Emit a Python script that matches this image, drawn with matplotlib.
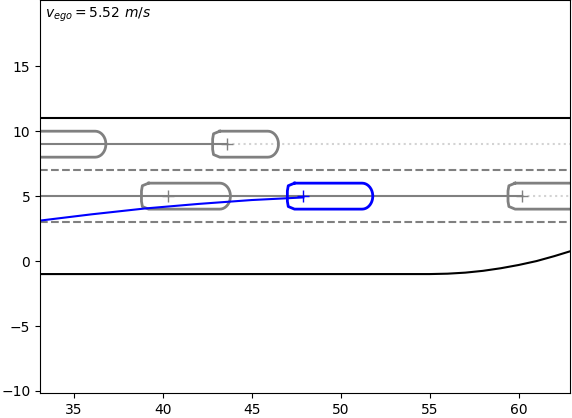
import numpy as np
import matplotlib
matplotlib.use("Agg")
import matplotlib.pyplot as plt

# vehicles: (cross x, box left, box right, lane y)
car_cross = [36.0, 43.6, 40.3, 60.2]
car_left = [31.0, 42.8, 38.8, 59.4]
car_right = [36.8, 46.5, 43.8, 65.0]
car_y = [9.0, 9.0, 5.0, 5.0]
ego_cross, ego_left, ego_right, ego_y = 47.9, 47.0, 51.8, 5.0
blue_x = [33.0, 36.0, 39.0, 42.0, 45.0, 47.9]
blue_y = [3.1, 3.6, 4.05, 4.4, 4.7, 4.9]
edge_x = [33.0, 55.0, 56.0, 57.0, 58.0, 59.0, 60.0, 61.0, 62.0, 63.0]
edge_y = [-1.0, -1.0, -0.97, -0.89, -0.75, -0.55, -0.3, 0.0, 0.38, 0.8]

fig = plt.figure(figsize=(5.72, 4.18), dpi=100)
ax = fig.add_axes([0.07, 0.06, 0.927, 0.94])

def box(x0, x1, yc, col, h=1.0):
    t = np.linspace(-np.pi/2, np.pi/2, 20)
    r = 0.6
    xs = [x0 + 0.4, x0 + 0.05, x0, x0, x0 + 0.05, x0 + 0.4] + list(x1 - r + r*np.cos(t)) + [x0 + 0.4]
    ys = [yc + h, yc + 0.8*h, yc + 0.4*h, yc - 0.4*h, yc - 0.8*h, yc - h] + list(yc + h*np.sin(t)) + [yc + h]
    ax.plot(xs, ys, color=col, lw=2)

ax.axhline(11, color='black', lw=1.5)
ax.plot(edge_x, edge_y, color='black', lw=1.5)
for yy in (7, 3):
    ax.axhline(yy, color='gray', ls='--', lw=1.5)

ax.plot([33, car_cross[1]], [9, 9], color='gray', lw=1.5)
ax.plot([car_cross[1], 63], [9, 9], color='lightgray', ls=':', lw=1.5)
ax.plot([33, car_cross[3]], [5, 5], color='gray', lw=1.5)
ax.plot([car_cross[3], 63], [5, 5], color='lightgray', ls=':', lw=1.5)

for i in range(4):
    box(car_left[i], car_right[i], car_y[i], 'gray')
    if i > 0:
        ax.plot(car_cross[i], car_y[i], '+', color='gray', ms=8)

ax.plot(blue_x, blue_y, color='blue', lw=1.5)
box(ego_left, ego_right, ego_y, 'blue')
ax.plot(ego_cross, ego_y, '+', color='blue', ms=8)

ax.text(0.01, 0.985, r'$v_{ego} = 5.52\ m/s$', transform=ax.transAxes, va='top', ha='left', fontsize=10)
ax.set_xlim(33.1, 62.9)
ax.set_ylim(-10.15, 20.1)
ax.set_yticks([-10, -5, 0, 5, 10, 15])
ax.set_xticks([35, 40, 45, 50, 55, 60])
fig.savefig('out.png')
